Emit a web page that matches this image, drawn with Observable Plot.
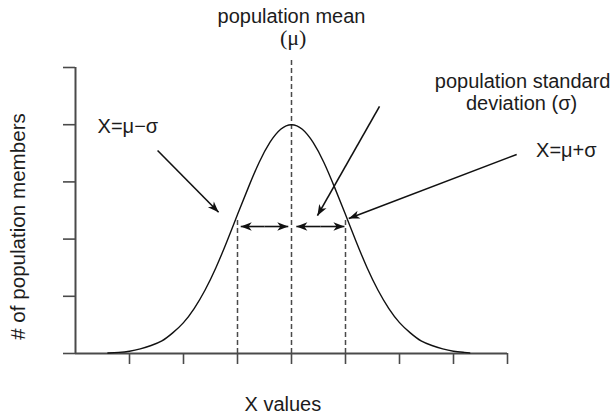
<!DOCTYPE html>
<html>
<head>
<meta charset="utf-8">
<script src="https://cdn.jsdelivr.net/npm/d3@7"></script>
<script src="https://cdn.jsdelivr.net/npm/@observablehq/plot@0.6"></script>
<style>
  html, body { margin: 0; padding: 0; background: #fff; }
  #chart svg { display: block; font-family: "Liberation Sans", Arial, Helvetica, sans-serif; }
</style>
</head>
<body>
<div id="chart"></div>
<script>
// Curve: x in σ units from μ, y = # of population members (axis tick units)
const curveX = [-3.4,-3.2,-3.0,-2.8,-2.6,-2.4,-2.2,-2.0,-1.8,-1.6,-1.4,-1.2,-1.0,-0.8,-0.6,-0.4,-0.2,0,
                0.2,0.4,0.6,0.8,1.0,1.2,1.4,1.6,1.8,2.0,2.2,2.4,2.6,2.8,3.0,3.2,3.3];
const curveY = [0.01,0.02,0.04,0.08,0.14,0.22,0.36,0.54,0.79,1.11,1.50,1.95,2.43,2.90,3.34,3.69,3.92,4.00,
                3.92,3.69,3.34,2.90,2.43,1.95,1.50,1.11,0.79,0.54,0.36,0.22,0.14,0.08,0.04,0.02,0.01];

// Axis ticks
const xTicks = [-3,-2,-1,0,1,2,3,4];
const yTicks = [0,1,2,3,4,5];
const xDomain = [-4, 4];
const yDomain = [0, 5];

// Reference (dashed) lines at μ−σ, μ, μ+σ and their tops
const refX = [-1, 0, 1];
const refTop = [2.36, 5.14, 2.36];

// Annotation arrows (data units): start -> tip
const arrowX1 = [-2.48, 1.63, 4.17, -0.5, -0.5, 0.54, 0.54];
const arrowY1 = [3.55, 4.32, 3.48, 2.22, 2.22, 2.22, 2.22];
const arrowX2 = [-1.35, 0.48, 1.06, -0.94, -0.06, 0.09, 0.98];
const arrowY2 = [2.47, 2.41, 2.36, 2.22, 2.22, 2.22, 2.22];

// Annotation texts (centered)
const labelText = ["population mean", "X=μ−σ", "population standard", "deviation (σ)", "X=μ+σ"];
const labelX = [0, -3.03, 4.28, 4.26, 5.09];
const labelY = [5.77, 3.86, 4.65, 4.25, 3.43];
const muText = ["(μ)"];
const muX = [0.03];
const muY = [5.39];

const xTitle = "X values";
const yTitle = "# of population members";

const W = 612, H = 417, mL = 75, mR = 105, mT = 67, mB = 64;
const xs = Plot.scale({x: {domain: xDomain, range: [mL, W - mR]}});
const ys = Plot.scale({y: {domain: yDomain, range: [H - mB, mT]}});

const curve = curveX.map((x, i) => ({x, y: curveY[i]}));
const refs = refX.map((x, i) => ({x, top: refTop[i]}));
const arrows = arrowX1.map((x1, i) => {
  const x2 = arrowX2[i], y1 = arrowY1[i], y2 = arrowY2[i];
  const dx = xs.apply(x2) - xs.apply(x1), dy = ys.apply(y2) - ys.apply(y1);
  return {x1, y1, x2, y2, angle: Math.atan2(dx, -dy) * 180 / Math.PI};
});
const labels = labelText.map((t, i) => ({t, x: labelX[i], y: labelY[i]}));

// Notched, filled arrowhead pointing up, tip at the symbol origin
const arrowHead = {
  draw(context, size) {
    const L = Math.sqrt(size / Math.PI);
    const w = L * 0.38;
    context.moveTo(0, 0);
    context.lineTo(w, L);
    context.lineTo(0, L * 0.72);
    context.lineTo(-w, L);
    context.closePath();
  }
};

const axisColor = "#4a4a4a";
const ink = "#1c1c1c";
const fs = 20;

const chart = Plot.plot({
  width: W,
  height: H,
  marginLeft: mL,
  marginRight: mR,
  marginTop: mT,
  marginBottom: mB,
  style: {fontFamily: '"Liberation Sans", Arial, Helvetica, sans-serif', background: "#fff"},
  x: {domain: xDomain},
  y: {domain: yDomain},
  marks: [
    // dashed reference lines
    Plot.ruleX(refs, {x: "x", y1: 0, y2: "top", stroke: axisColor, strokeWidth: 1.5, strokeDasharray: "5,3"}),
    // axes
    Plot.axisX(xTicks, {tickSize: 11, tickFormat: () => "", stroke: axisColor, strokeWidth: 1.6, label: null}),
    Plot.axisY(yTicks, {tickSize: 12, tickFormat: () => "", stroke: axisColor, strokeWidth: 1.6, label: null}),
    Plot.ruleY([0], {x1: xDomain[0], x2: xDomain[1], stroke: axisColor, strokeWidth: 2}),
    Plot.ruleX([xDomain[0]], {y1: yDomain[0], y2: yDomain[1], stroke: axisColor, strokeWidth: 2}),
    // curve
    Plot.line(curve, {x: "x", y: "y", curve: "natural", stroke: "#111", strokeWidth: 1.4}),
    // arrows: shafts + filled heads
    Plot.link(arrows, {x1: "x1", y1: "y1", x2: "x2", y2: "y2", stroke: "#111", strokeWidth: 1.6}),
    Plot.dot(arrows, {x: "x2", y: "y2", rotate: "angle", symbol: arrowHead, r: 11,
                      fill: "#111", stroke: "none"}),
    // annotation texts
    Plot.text(labels, {x: "x", y: "y", text: "t", lineAnchor: "bottom", fontSize: fs, fill: ink}),
    Plot.text(muText, {x: muX, y: muY, text: d => d, lineAnchor: "bottom", fontSize: 22,
                       fontFamily: '"Liberation Serif", "Times New Roman", serif', fill: ink}),
    // axis titles
    Plot.text([xTitle], {x: [-0.16], y: [-1.0], text: d => d, lineAnchor: "bottom", fontSize: fs, fill: ink}),
    Plot.text([yTitle], {x: [-5.05], y: [2.22], text: d => d, rotate: -90, fontSize: 20.6, fill: ink})
  ]
});

document.getElementById("chart").appendChild(chart);
</script>
</body>
</html>
